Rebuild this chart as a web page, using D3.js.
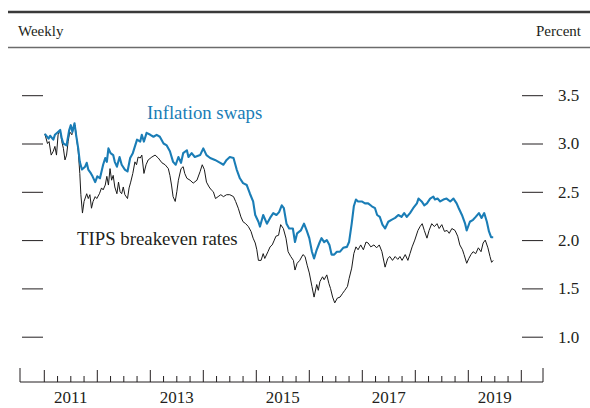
<!DOCTYPE html>
<html lang="en">
<head>
    <meta charset="UTF-8">
    <title>Inflation swaps and TIPS breakeven rates</title>
    <script src="https://cdnjs.cloudflare.com/ajax/libs/d3/7.8.5/d3.min.js"></script>
    <style>
        body { margin: 0; background: #fff; }
        svg { display: block; font-family: 'Liberation Serif', 'Times New Roman', serif; }
    </style>
</head>
<body>
    <svg id="chart" width="590" height="408"></svg>
    <script>
        // weekly readings, decimal years
        var swapYears = [2011.01,2011.08,2011.11,2011.17,2011.20,2011.26,2011.30,2011.33,2011.36,2011.42,
            2011.47,2011.50,2011.53,2011.57,2011.60,2011.64,2011.67,2011.71,2011.77,2011.80,
            2011.83,2011.88,2011.91,2011.96,2012.00,2012.05,2012.11,2012.15,2012.18,2012.21,
            2012.25,2012.30,2012.33,2012.37,2012.42,2012.46,2012.52,2012.57,2012.62,2012.67,
            2012.71,2012.75,2012.81,2012.84,2012.88,2012.93,2013.00,2013.06,2013.12,2013.18,
            2013.25,2013.31,2013.37,2013.43,2013.48,2013.53,2013.58,2013.62,2013.69,2013.72,
            2013.78,2013.84,2013.94,2014.00,2014.06,2014.13,2014.22,2014.32,2014.38,2014.44,
            2014.50,2014.57,2014.63,2014.69,2014.75,2014.82,2014.88,2014.94,2014.98,2015.04,
            2015.07,2015.13,2015.20,2015.26,2015.32,2015.38,2015.43,2015.48,2015.52,2015.57,
            2015.62,2015.69,2015.73,2015.77,2015.84,2015.90,2015.95,2016.00,2016.05,2016.09,
            2016.14,2016.19,2016.23,2016.28,2016.33,2016.38,2016.42,2016.47,2016.52,2016.58,
            2016.64,2016.71,2016.75,2016.80,2016.84,2016.88,2016.92,2016.99,2017.05,2017.11,
            2017.18,2017.24,2017.28,2017.33,2017.38,2017.43,2017.49,2017.55,2017.62,2017.68,
            2017.74,2017.79,2017.84,2017.90,2017.96,2018.03,2018.06,2018.12,2018.17,2018.22,
            2018.28,2018.34,2018.37,2018.42,2018.47,2018.53,2018.59,2018.66,2018.72,2018.78,
            2018.82,2018.88,2018.94,2018.97,2019.03,2019.09,2019.14,2019.20,2019.25,2019.30,
            2019.35,2019.39,2019.43,2019.47];
        var swapRates = [3.10,3.05,3.08,3.04,3.09,3.12,3.14,3.05,3.00,2.98,
            3.14,3.19,3.12,3.21,3.09,2.95,2.81,2.73,2.76,2.80,
            2.73,2.69,2.66,2.60,2.66,2.64,2.78,2.85,2.81,2.95,
            2.90,2.88,2.81,2.76,2.86,2.78,2.73,2.71,2.85,2.90,
            2.97,3.04,3.02,3.09,3.02,3.11,3.09,3.07,3.09,3.07,
            3.00,2.98,2.92,2.81,2.78,2.86,2.80,2.90,2.93,2.86,
            2.90,2.86,2.88,2.95,2.88,2.85,2.83,2.80,2.78,2.83,
            2.86,2.85,2.73,2.64,2.59,2.57,2.48,2.40,2.26,2.19,
            2.14,2.26,2.17,2.23,2.28,2.26,2.29,2.36,2.33,2.17,
            2.12,2.12,1.98,2.07,2.10,2.17,2.10,2.02,1.88,1.81,
            1.90,1.97,2.02,1.98,2.00,1.95,1.85,1.85,1.88,1.88,
            1.92,1.93,1.98,2.17,2.35,2.42,2.40,2.40,2.38,2.38,
            2.35,2.33,2.26,2.24,2.16,2.12,2.19,2.21,2.23,2.26,
            2.24,2.28,2.24,2.28,2.33,2.38,2.43,2.40,2.36,2.38,
            2.43,2.45,2.42,2.43,2.40,2.42,2.43,2.40,2.43,2.38,
            2.33,2.26,2.17,2.10,2.19,2.21,2.24,2.28,2.23,2.28,
            2.19,2.09,2.03,2.03];

        var tipsYears = [2011.01,2011.06,2011.09,2011.13,2011.17,2011.20,2011.23,2011.26,2011.30,2011.33,
            2011.36,2011.39,2011.42,2011.45,2011.48,2011.52,2011.55,2011.58,2011.61,2011.64,
            2011.67,2011.69,2011.72,2011.75,2011.80,2011.83,2011.86,2011.89,2011.92,2011.96,
            2011.99,2012.04,2012.08,2012.11,2012.15,2012.18,2012.21,2012.24,2012.27,2012.30,
            2012.33,2012.37,2012.40,2012.43,2012.46,2012.49,2012.52,2012.57,2012.60,2012.63,
            2012.67,2012.71,2012.74,2012.77,2012.81,2012.84,2012.88,2012.92,2012.96,2013.03,
            2013.09,2013.15,2013.22,2013.28,2013.34,2013.37,2013.40,2013.43,2013.47,2013.50,
            2013.53,2013.58,2013.62,2013.65,2013.69,2013.75,2013.81,2013.88,2013.94,2013.98,
            2014.02,2014.06,2014.11,2014.15,2014.19,2014.23,2014.28,2014.33,2014.38,2014.44,
            2014.50,2014.57,2014.61,2014.66,2014.71,2014.75,2014.80,2014.85,2014.90,2014.94,
            2014.98,2015.01,2015.04,2015.09,2015.13,2015.16,2015.22,2015.26,2015.30,2015.34,
            2015.37,2015.42,2015.46,2015.51,2015.56,2015.60,2015.65,2015.70,2015.73,2015.77,
            2015.82,2015.88,2015.92,2015.96,2016.00,2016.05,2016.09,2016.14,2016.17,2016.20,
            2016.25,2016.28,2016.33,2016.37,2016.40,2016.44,2016.48,2016.53,2016.58,2016.63,
            2016.67,2016.72,2016.75,2016.80,2016.84,2016.88,2016.92,2016.97,2017.02,2017.07,
            2017.11,2017.16,2017.22,2017.27,2017.32,2017.37,2017.43,2017.48,2017.52,2017.57,
            2017.62,2017.67,2017.71,2017.75,2017.81,2017.86,2017.90,2017.94,2017.99,2018.05,
            2018.09,2018.13,2018.17,2018.22,2018.26,2018.31,2018.36,2018.41,2018.45,2018.50,
            2018.55,2018.60,2018.64,2018.69,2018.75,2018.80,2018.84,2018.89,2018.92,2018.97,
            2019.01,2019.05,2019.09,2019.14,2019.19,2019.24,2019.28,2019.32,2019.37,2019.41,
            2019.44,2019.47];
        var tipsRates = [3.10,3.00,3.02,2.88,2.92,2.97,2.88,3.09,3.14,3.02,
            2.95,2.83,2.88,3.02,3.12,3.09,3.17,3.19,3.05,2.92,
            2.69,2.47,2.28,2.40,2.48,2.43,2.47,2.33,2.40,2.45,
            2.43,2.48,2.54,2.52,2.57,2.66,2.57,2.74,2.62,2.67,
            2.55,2.48,2.60,2.50,2.48,2.55,2.47,2.43,2.54,2.60,
            2.69,2.81,2.78,2.86,2.85,2.88,2.69,2.78,2.83,2.86,
            2.88,2.85,2.80,2.78,2.74,2.67,2.57,2.45,2.40,2.50,
            2.62,2.74,2.76,2.69,2.64,2.62,2.59,2.62,2.71,2.78,
            2.73,2.60,2.55,2.52,2.50,2.43,2.45,2.47,2.45,2.47,
            2.47,2.45,2.40,2.33,2.24,2.19,2.17,2.14,2.09,2.02,
            1.97,1.90,1.79,1.79,1.86,1.81,1.88,1.93,1.95,2.00,
            2.04,2.05,2.16,2.12,2.02,1.88,1.83,1.79,1.69,1.76,
            1.79,1.85,1.83,1.74,1.66,1.52,1.41,1.54,1.48,1.57,
            1.62,1.59,1.64,1.55,1.50,1.41,1.35,1.40,1.41,1.45,
            1.48,1.52,1.60,1.71,1.86,1.93,1.90,1.95,1.90,1.98,
            1.97,1.93,1.95,1.92,1.95,1.88,1.72,1.81,1.83,1.79,
            1.83,1.80,1.83,1.79,1.85,1.79,1.86,1.93,2.00,2.10,
            2.14,2.17,2.10,2.02,2.10,2.17,2.14,2.17,2.12,2.16,
            2.09,2.10,2.07,2.12,2.10,2.04,1.95,1.90,1.85,1.76,
            1.81,1.85,1.88,1.86,1.92,1.88,1.97,2.00,1.92,1.83,
            1.77,1.79];

        var yTicks = [1.0, 1.5, 2.0, 2.5, 3.0, 3.5];
        var yearTicks = [2011, 2012, 2013, 2014, 2015, 2016, 2017, 2018, 2019, 2020];
        var yearLabels = [2011, 2013, 2015, 2017, 2019];

        var svg = d3.select("#chart");
        var ink = "#231f20", blue = "#1a7db6";

        var x = d3.scaleLinear().domain([2011, 2020]).range([44.3, 521.3]);
        var y = d3.scaleLinear().domain([1, 3.5]).range([336.7, 95.2]);
        var left = 20, right = 543, base = 382;

        // header rules and captions
        svg.append("line").attr("x1", 8).attr("x2", 590).attr("y1", 12).attr("y2", 12)
            .attr("stroke", "#3a3a3a").attr("stroke-width", 2.5);
        svg.append("line").attr("x1", 8).attr("x2", 590).attr("y1", 47.5).attr("y2", 47.5)
            .attr("stroke", "#6b6b6b").attr("stroke-width", 1.5);
        svg.append("text").attr("x", 18).attr("y", 36).attr("font-size", 15)
            .attr("fill", ink).text("Weekly");
        svg.append("text").attr("x", 581).attr("y", 36).attr("font-size", 15)
            .attr("text-anchor", "end").attr("fill", ink).text("Percent");

        // y ticks on both sides, labels on the right
        var yRight = d3.axisRight(y).tickValues(yTicks).tickSize(21).tickPadding(15)
            .tickFormat(d3.format(".1f"));
        var gr = svg.append("g").attr("transform", "translate(522,0)").call(yRight);
        var yLeft = d3.axisLeft(y).tickValues(yTicks).tickSize(21).tickFormat("");
        var gl = svg.append("g").attr("transform", "translate(43,0)").call(yLeft);
        [gr, gl].forEach(function(g) {
            g.select(".domain").remove();
            g.selectAll(".tick line").attr("stroke", ink).attr("stroke-width", 1);
            g.selectAll(".tick text").attr("font-family", "Liberation Serif")
                .attr("font-size", 17).attr("fill", ink);
        });

        // x axis: baseline, quarter ticks, year ticks
        svg.append("line").attr("x1", left).attr("x2", right).attr("y1", base).attr("y2", base)
            .attr("stroke", ink).attr("stroke-width", 1);
        var quarters = d3.range(2011.25, 2020, 0.25).filter(function(q) { return q % 1 !== 0; });
        svg.selectAll("line.q").data(quarters).enter().append("line").attr("class", "q")
            .attr("x1", function(d) { return x(d); }).attr("x2", function(d) { return x(d); })
            .attr("y1", base).attr("y2", base - 6)
            .attr("stroke", ink).attr("stroke-width", 1);
        svg.selectAll("line.yr").data(yearTicks).enter().append("line").attr("class", "yr")
            .attr("x1", function(d) { return x(d); }).attr("x2", function(d) { return x(d); })
            .attr("y1", base).attr("y2", base - 12)
            .attr("stroke", ink).attr("stroke-width", 1);
        svg.selectAll("line.cap").data([left, right]).enter().append("line").attr("class", "cap")
            .attr("x1", function(d) { return d; }).attr("x2", function(d) { return d; })
            .attr("y1", base).attr("y2", base - 14)
            .attr("stroke", ink).attr("stroke-width", 1);
        svg.selectAll("text.yl").data(yearLabels).enter().append("text").attr("class", "yl")
            .attr("x", function(d) { return x(d + 0.5); }).attr("y", 403)
            .attr("text-anchor", "middle").attr("font-size", 17).attr("fill", ink)
            .text(function(d) { return d; });

        // series
        var line = d3.line().x(function(d) { return x(d[0]); }).y(function(d) { return y(d[1]); });
        var tips = d3.zip(tipsYears, tipsRates);
        var swaps = d3.zip(swapYears, swapRates);
        svg.append("path").datum(tips).attr("d", line).attr("fill", "none")
            .attr("stroke", "#1a1a1a").attr("stroke-width", 1).attr("stroke-linejoin", "round");
        svg.append("path").datum(swaps).attr("d", line).attr("fill", "none")
            .attr("stroke", blue).attr("stroke-width", 2.1).attr("stroke-linejoin", "round");

        svg.append("text").attr("x", 147).attr("y", 119).attr("font-size", 18.8)
            .attr("fill", blue).text("Inflation swaps");
        svg.append("text").attr("x", 77).attr("y", 245).attr("font-size", 18.8)
            .attr("fill", ink).text("TIPS breakeven rates");
    </script>
</body>
</html>
